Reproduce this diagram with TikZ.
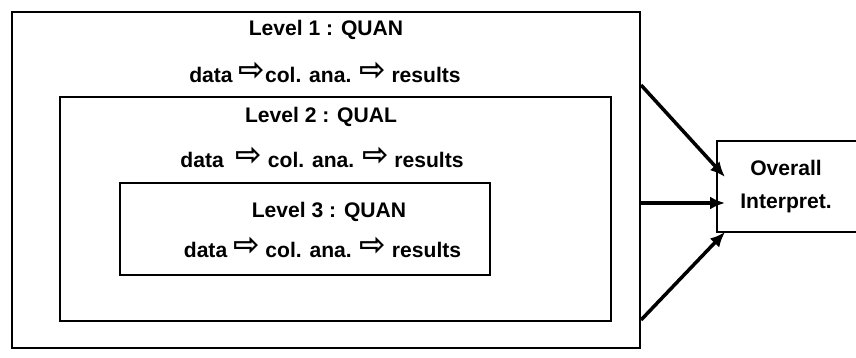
\documentclass[tikz,border=0pt]{standalone}
\usepackage{fontspec}
\setmainfont{Liberation Sans}
\newfontfamily\arrowfont{DejaVu Sans}
\usepackage{tikz}
\usetikzlibrary{arrows.meta}
\newcommand{\warr}{\raisebox{1.2pt}{\arrowfont\fontsize{18}{18}\selectfont ⇨}}

\begin{document}
\begin{tikzpicture}[lvl/.style={draw,line width=1.2pt,inner sep=0pt},
          txt/.style={font=\bfseries\fontsize{12}{14}\selectfont},
          link/.style={line width=2pt,-{Latex[length=3mm,width=2.6mm]}}]
          \useasboundingbox (0,0) rectangle (17.12,7.16);
          \clip (0,0) rectangle (17.12,7.16);
          \node[lvl,minimum width=12.56cm,minimum height=6.72cm] (L1) at (6.52,3.56) {};
          \node[lvl,minimum width=11.02cm,minimum height=4.48cm] (L2) at (6.71,2.98) {};
          \node[lvl,minimum width=7.4cm,minimum height=1.84cm] (L3) at (6.1,2.58) {};
          \node[lvl,minimum width=4.4cm,minimum height=1.82cm] (OI) at (16.54,3.43) {};
          \node[txt] (t1) at (6.52,6.56) {Level 1 : QUAN};
          \node[txt] (d1) at (6.5,5.72) {data \warr col. ana. \warr\ results};
          \node[txt] (t2) at (6.42,4.82) {Level 2 : QUAL};
          \node[txt] (d2) at (6.44,4.02) {data \ \warr\ col. ana. \warr\ results};
          \node[txt] (t3) at (6.58,2.92) {Level 3 : QUAN};
          \node[txt] (d3) at (6.45,2.22) {data \warr\ col. ana. \warr\ results};
          \node[txt] (o1) at (15.72,3.8) {Overall};
          \node[txt] (o2) at (15.72,3.1) {Interpret.};
          \coordinate (a1) at (12.82,5.46);
          \coordinate (a2) at (12.82,3.1);
          \coordinate (a3) at (12.82,0.76);
          \coordinate (b1) at (14.5,3.62);
          \coordinate (b2) at (14.5,3.1);
          \coordinate (b3) at (14.5,2.52);
          \draw[link] (a1) -- (b1);
          \draw[link] (a2) -- (b2);
          \draw[link] (a3) -- (b3);
        \end{tikzpicture}
\end{document}
